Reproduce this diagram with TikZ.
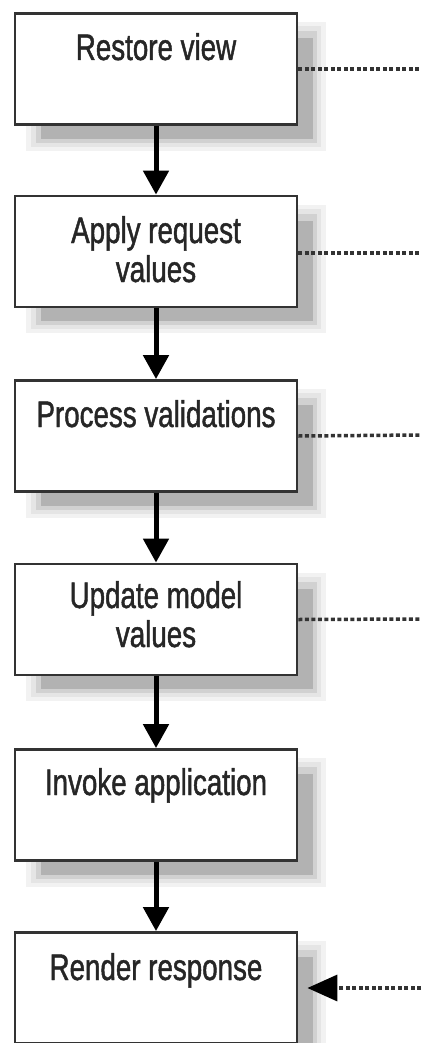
\documentclass[tikz,border=0pt]{standalone}
\usepackage{fontspec}
\setmainfont{Liberation Sans}[FakeStretch=0.75,FakeBold=1.2]
\usetikzlibrary{arrows.meta,backgrounds}
\begin{document}
\begin{tikzpicture}[x=1pt,y=-1pt,
  stage/.style={draw=black!80,line width=2.8pt,fill=white,minimum width=282pt,minimum height=111pt,inner sep=0pt},
  lbl/.style={font=\fontsize{37}{39}\selectfont,text=black!85,align=center,inner sep=0pt,anchor=base},
  flow/.style={line width=5pt,black,-{Triangle[width=25pt,length=24pt]}},
  dots/.style={line width=3.5pt,black!80,dash pattern=on 4pt off 2.5pt},
  dotarrow/.style={dots,-{Triangle[width=26pt,length=30pt,color=black]},shorten >=9pt}]
\useasboundingbox (0,0) rectangle (421,1043);
\node[stage] (b1) at (156,69) {};
\node[stage] (b2) at (156,251.5) {};
\node[stage] (b3) at (156,436) {};
\node[stage] (b4) at (156,619.5) {};
\node[stage] (b5) at (156,805) {};
\node[stage] (b6) at (156,988) {};
\begin{scope}[on background layer]
\foreach \b in {b1,b2,b3,b4,b5,b6}{
  \fill[black!5]  ([xshift=12pt,yshift=-10pt]\b.north west) rectangle ([xshift=28pt,yshift=-25pt]\b.south east);
  \fill[black!10] ([xshift=17pt,yshift=-14pt]\b.north west) rectangle ([xshift=23pt,yshift=-21pt]\b.south east);
  \fill[black!18] ([xshift=22pt,yshift=-19pt]\b.north west) rectangle ([xshift=19pt,yshift=-17pt]\b.south east);
  \fill[black!30] ([xshift=27pt,yshift=-26pt]\b.north west) rectangle ([xshift=15pt,yshift=-13pt]\b.south east);
}
\end{scope}
\node[lbl] (l1) at (156,60) {Restore view};
\node[lbl] (l2) at (156,282) {Apply request\\values};
\node[lbl] (l3) at (156,427) {Process validations};
\node[lbl] (l4) at (156,647) {Update model\\values};
\node[lbl] (l5) at (156,795) {Invoke application};
\node[lbl] (l6) at (156,980) {Render response};
\draw[flow] (b1) -- (b2);
\draw[flow] (b2) -- (b3);
\draw[flow] (b3) -- (b4);
\draw[flow] (b4) -- (b5);
\draw[flow] (b5) -- (b6);
\coordinate (e1) at (421,69);
\coordinate (e2) at (421,253);
\coordinate (e3) at (421,435);
\coordinate (e4) at (421,619);
\coordinate (e6) at (421,988);
\draw[dots] (b1.east) -- (e1);
\draw[dots] (b2.east |- e2) -- (e2);
\draw[dots] (b3.east) -- (e3);
\draw[dots] (b4.east) -- (e4);
\draw[dotarrow] (e6) -- (b6.east);
\end{tikzpicture}
\end{document}
